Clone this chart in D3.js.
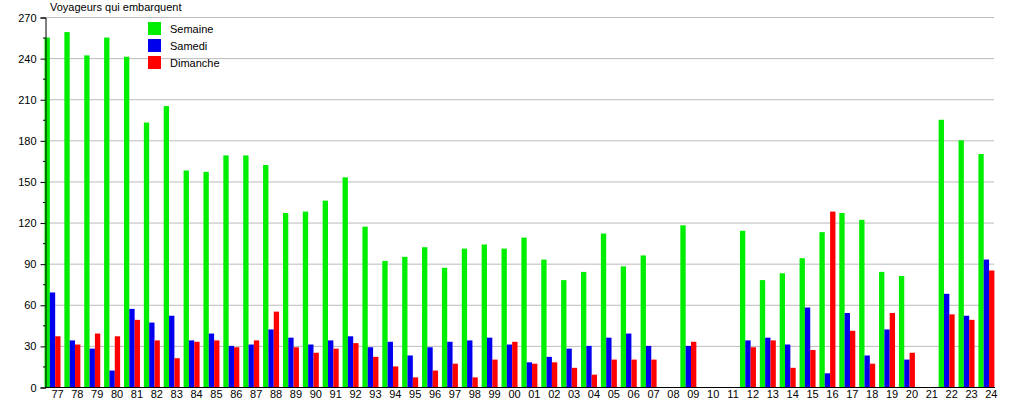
<!DOCTYPE html>
<html>
<head>
<meta charset="utf-8">
<script src="https://cdn.jsdelivr.net/npm/d3@7"></script>
<style>
  body { margin: 0; background: #fff; }
  text { font-family: "Liberation Sans", Arial, sans-serif; font-size: 11px; fill: #000; }
</style>
</head>
<body>
<div id="chart"></div>
<script>
// data
const years = ["77","78","79","80","81","82","83","84","85","86","87","88","89","90","91","92","93","94","95","96","97","98","99",
  "00","01","02","03","04","05","06","07","08","09","10","11","12","13","14","15","16","17","18","19","20","21","22","23","24"];
const semaine = [255,259,242,255,241,193,205,158,157,169,169,162,127,128,136,153,117,92,95,102,87,101,104,
  101,109,93,78,84,112,88,96,0,118,0,0,114,78,83,94,113,127,122,84,81,0,195,180,170];
const samedi = [69,34,28,12,57,47,52,34,39,30,31,42,36,31,34,37,29,33,23,29,33,34,36,
  31,18,22,28,30,36,39,30,0,30,0,0,34,36,31,58,10,54,23,42,20,0,68,52,93];
const dimanche = [37,31,39,37,49,34,21,33,34,29,34,55,29,25,28,32,22,15,7,12,17,7,20,
  33,17,18,14,9,20,20,20,0,33,0,0,29,34,14,27,128,41,17,54,25,0,53,49,85];
const seriesNames = ["Semaine", "Samedi", "Dimanche"];
const colors = ["#00ee00", "#0000ee", "#ff0000"];
const yTicks = [0,30,60,90,120,150,180,210,240,270];

const width = 1015, height = 400;
const margin = { left: 45, right: 994, top: 17, bottom: 387 };

const rows = years.map((y, i) => ({ year: y, values: [semaine[i], samedi[i], dimanche[i]] }));

const svg = d3.select("#chart").append("svg")
  .attr("width", width).attr("height", height);

const x = d3.scaleBand().domain(years).range([44.5, 44.5 + 48 * 19.87]);
const xs = d3.scaleBand().domain(seriesNames).range([0, 16]);
const y = d3.scaleLinear().domain([0, 270]).range([margin.bottom, margin.top]);

// gridlines
svg.append("g")
  .selectAll("line")
  .data(yTicks.slice(1))
  .join("line")
  .attr("x1", margin.left).attr("x2", margin.right)
  .attr("y1", d => y(d) + 0.5).attr("y2", d => y(d) + 0.5)
  .attr("stroke", "#bbb");

// bars
const grp = svg.append("g")
  .selectAll("g")
  .data(rows)
  .join("g")
  .attr("transform", d => `translate(${x(d.year)},0)`);

grp.selectAll("rect")
  .data(d => d.values.map((v, k) => ({ k, v })).filter(e => e.v > 0))
  .join("rect")
  .attr("x", d => xs(seriesNames[d.k]))
  .attr("width", xs.bandwidth())
  .attr("y", d => y(d.v))
  .attr("height", d => margin.bottom - y(d.v))
  .attr("fill", d => colors[d.k]);

// y axis
const yAxis = d3.axisLeft(y)
  .tickValues(yTicks)
  .tickSize(5)
  .tickPadding(4);
const ya = svg.append("g")
  .attr("transform", `translate(${margin.left + 0.5},0.5)`)
  .call(yAxis);
ya.select(".domain").attr("stroke", "#000");
ya.selectAll("text").style("font-size", "11px").attr("fill", "#000");

// minor ticks
svg.append("g")
  .selectAll("line")
  .data(d3.range(15, 270, 30))
  .join("line")
  .attr("x1", margin.left - 2).attr("x2", margin.left + 0.5)
  .attr("y1", d => y(d) + 0.5).attr("y2", d => y(d) + 0.5)
  .attr("stroke", "#000");

// x axis line
svg.append("line")
  .attr("x1", margin.left).attr("x2", margin.right + 1)
  .attr("y1", margin.bottom + 0.5).attr("y2", margin.bottom + 0.5)
  .attr("stroke", "#000");

// x labels
svg.append("g")
  .selectAll("text")
  .data(years)
  .join("text")
  .attr("x", d => x(d) + 13)
  .attr("y", 398)
  .attr("text-anchor", "middle")
  .text(d => d);

// title
svg.append("text")
  .attr("x", 50).attr("y", 11)
  .text("Voyageurs qui embarquent");

// legend
const leg = svg.append("g")
  .selectAll("g")
  .data(seriesNames)
  .join("g")
  .attr("transform", (d, i) => `translate(148,${22 + i * 17})`);
leg.append("rect")
  .attr("width", 13).attr("height", 13)
  .attr("fill", (d, i) => colors[i]);
leg.append("text")
  .attr("x", 22).attr("y", 11)
  .text(d => d);
</script>
</body>
</html>
